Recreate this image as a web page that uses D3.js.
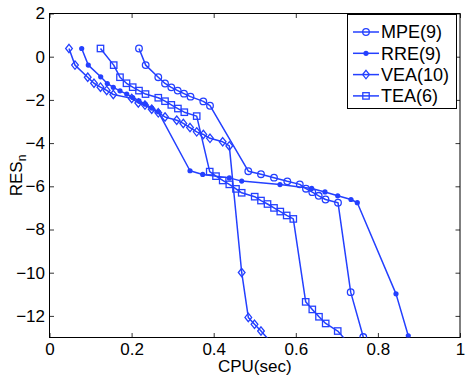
<!DOCTYPE html>
<html>
<head>
<meta charset="utf-8">
<script src="https://cdn.jsdelivr.net/npm/d3@7"></script>
<style>
  html, body { margin: 0; padding: 0; background: #fff; }
  svg { display: block; font-family: "Liberation Sans", Arial, Helvetica, sans-serif; }
</style>
</head>
<body>
<div id="chart"></div>
<script>
// values
const mpeCpu = [0.218, 0.2343, 0.265, 0.2814, 0.2967, 0.3123, 0.3276, 0.3435, 0.3747, 0.391,
  0.4843, 0.5152, 0.5469, 0.5793, 0.6097, 0.6248, 0.6402, 0.6558, 0.6724, 0.7028, 0.7337, 0.7644];
const mpeRes = [0.38, -0.39, -0.95, -1.24, -1.42, -1.57, -1.71, -1.85, -2.07, -2.27,
  -5.30, -5.44, -5.60, -5.77, -5.91, -6.11, -6.27, -6.44, -6.61, -6.76, -10.90, -12.98];

const rreCpu = [0.0784, 0.0945, 0.1247, 0.1408, 0.1554, 0.1717, 0.1881, 0.2027, 0.218, 0.2334, 0.249, 0.265,
  0.3423, 0.3732, 0.438, 0.4682, 0.5615, 0.6387, 0.6711, 0.7021, 0.7345, 0.7498, 0.8441, 0.874];
const rreRes = [0.38, -0.39, -0.93, -1.24, -1.42, -1.58, -1.73, -1.89, -2.04, -2.20, -2.38, -2.55,
  -5.28, -5.45, -5.61, -5.76, -5.92, -6.10, -6.26, -6.44, -6.61, -6.76, -10.98, -12.92];

const veaCpu = [0.0475, 0.0621, 0.0931, 0.1084, 0.1242, 0.1393, 0.1554, 0.2002, 0.2163, 0.2326, 0.249,
  0.265, 0.2814, 0.3099, 0.3259, 0.3423, 0.3586, 0.3747, 0.391, 0.4219, 0.438,
  0.4682, 0.4843, 0.4994, 0.5152, 0.5316];
const veaRes = [0.38, -0.39, -0.95, -1.23, -1.41, -1.56, -1.75, -1.93, -2.14, -2.24, -2.43,
  -2.60, -2.79, -2.94, -3.09, -3.28, -3.48, -3.60, -3.78, -3.94, -4.13,
  -9.99, -12.07, -12.39, -12.70, -13.05];

const teaCpu = [0.1242, 0.1564, 0.1717, 0.1876, 0.2027, 0.218, 0.2339, 0.265, 0.2814, 0.2967, 0.3128, 0.3284, 0.3586,
  0.3903, 0.4056, 0.4219, 0.438, 0.4543, 0.4682, 0.4999, 0.5152, 0.5311, 0.5469, 0.5622, 0.5778, 0.5939,
  0.6241, 0.6402, 0.6565, 0.6728, 0.7021, 0.73];
const teaRes = [0.38, -0.39, -0.95, -1.23, -1.41, -1.57, -1.73, -1.90, -2.06, -2.23, -2.40, -2.57, -2.75,
  -5.32, -5.53, -5.73, -5.91, -6.12, -6.30, -6.48, -6.66, -6.82, -7.00, -7.17, -7.35, -7.51,
  -11.35, -11.70, -12.04, -12.35, -12.70, -13.3];

const seriesNames = ["MPE(9)", "RRE(9)", "VEA(10)", "TEA(6)"];
const seriesMarkers = ["circle", "dot", "diamond", "square"];

const xTicks = [0, 0.2, 0.4, 0.6, 0.8, 1];
const xTickLabels = ["0", "0.2", "0.4", "0.6", "0.8", "1"];
const yTicks = [2, 0, -2, -4, -6, -8, -10, -12];
const yTickLabels = ["2", "0", "\u22122", "\u22124", "\u22126", "\u22128", "\u221210", "\u221212"];

const W = 469, H = 381;
const blue = "#2440ff";
const box = { left: 49.5, right: 460, top: 13.5, bottom: 337.5 };

const svg = d3.select("#chart").append("svg")
  .attr("width", W).attr("height", H)
  .attr("viewBox", `0 0 ${W} ${H}`);

const x = d3.scaleLinear().domain([0, 1]).range([box.left, box.right]);
const y = d3.scaleLinear().domain([-13, 2]).range([box.bottom, box.top]);

svg.append("defs").append("clipPath").attr("id", "plotclip")
  .append("rect").attr("x", box.left).attr("y", box.top)
  .attr("width", box.right - box.left).attr("height", box.bottom - box.top);

/* axes: inside ticks on all four sides, like matlab with box on */
const tickLen = 4.5;
const axB = svg.append("g").attr("transform", `translate(0,${box.bottom})`)
  .call(d3.axisBottom(x).tickValues(xTicks).tickSize(-tickLen).tickPadding(5)
    .tickFormat((d, i) => xTickLabels[i]));
const axT = svg.append("g").attr("transform", `translate(0,${box.top})`)
  .call(d3.axisTop(x).tickValues(xTicks).tickSize(-tickLen).tickFormat(""));
const axL = svg.append("g").attr("transform", `translate(${box.left},0)`)
  .call(d3.axisLeft(y).tickValues(yTicks).tickSize(-tickLen).tickPadding(4.5)
    .tickFormat((d, i) => yTickLabels[i]));
const axR = svg.append("g").attr("transform", `translate(${box.right},0)`)
  .call(d3.axisRight(y).tickValues(yTicks).tickSize(-tickLen).tickFormat(""));

[axB, axT, axL, axR].forEach(a => {
  a.select(".domain").remove();
  a.selectAll(".tick line").attr("stroke", "#000").attr("stroke-width", 0.8);
  a.selectAll(".tick text").attr("font-size", "17px").attr("fill", "#000")
    .attr("font-family", "'Liberation Sans', Arial, sans-serif");
});

svg.append("rect")
  .attr("x", box.left).attr("y", box.top)
  .attr("width", box.right - box.left).attr("height", box.bottom - box.top)
  .attr("fill", "none").attr("stroke", "#000").attr("stroke-width", 1);

/* axis labels */
svg.append("text")
  .attr("x", (box.left + box.right) / 2).attr("y", 372)
  .attr("text-anchor", "middle").attr("font-size", "17px").attr("fill", "#000")
  .text("CPU(sec)");

const yLab = svg.append("text")
  .attr("transform", `translate(21.5,${(box.top + box.bottom) / 2}) rotate(-90)`)
  .attr("text-anchor", "middle").attr("font-size", "17px").attr("fill", "#000");
yLab.append("tspan").text("RES");
yLab.append("tspan").attr("font-size", "12px").attr("dy", "4").text("n");

/* marker drawing */
function drawMarker(g, kind, cx, cy) {
  if (kind === "circle") {
    g.append("circle").attr("cx", cx).attr("cy", cy).attr("r", 3.3)
      .attr("fill", "none").attr("stroke", blue).attr("stroke-width", 1.3);
  } else if (kind === "dot") {
    g.append("circle").attr("cx", cx).attr("cy", cy).attr("r", 2.6)
      .attr("fill", blue).attr("stroke", "none");
  } else if (kind === "diamond") {
    const s = 4.2;
    g.append("path")
      .attr("d", `M${cx},${cy - s}L${cx + s * 0.8},${cy}L${cx},${cy + s}L${cx - s * 0.8},${cy}Z`)
      .attr("fill", "none").attr("stroke", blue).attr("stroke-width", 1.3);
  } else {
    const s = 3.2;
    g.append("rect").attr("x", cx - s).attr("y", cy - s).attr("width", 2 * s).attr("height", 2 * s)
      .attr("fill", "none").attr("stroke", blue).attr("stroke-width", 1.3);
  }
}

const allSeries = [
  { cpu: mpeCpu, res: mpeRes },
  { cpu: rreCpu, res: rreRes },
  { cpu: veaCpu, res: veaRes },
  { cpu: teaCpu, res: teaRes }
];

const line = d3.line().x(d => x(d[0])).y(d => y(d[1]));
const plot = svg.append("g").attr("clip-path", "url(#plotclip)");

allSeries.forEach((s, k) => {
  const pts = s.cpu.map((c, i) => [c, s.res[i]]);
  plot.append("path").datum(pts).attr("d", line)
    .attr("fill", "none").attr("stroke", blue).attr("stroke-width", 1.5)
    .attr("stroke-linejoin", "round");
  const mg = plot.append("g");
  pts.filter(p => p[1] >= -13 && p[1] <= 2)
    .forEach(p => drawMarker(mg, seriesMarkers[k], x(p[0]), y(p[1])));
});

/* legend */
const leg = svg.append("g");
leg.append("rect").attr("x", 347.5).attr("y", 14.5).attr("width", 109).attr("height", 94)
  .attr("fill", "#fff").attr("stroke", "#000").attr("stroke-width", 1);
seriesNames.forEach((name, i) => {
  const ly = 32 + i * 21.3;
  leg.append("line").attr("x1", 353).attr("x2", 379).attr("y1", ly).attr("y2", ly)
    .attr("stroke", blue).attr("stroke-width", 1.5);
  drawMarker(leg, seriesMarkers[i], 366, ly);
  leg.append("text").attr("x", 381).attr("y", ly).attr("dy", "0.36em")
    .attr("font-size", "18px").attr("fill", "#000").text(name);
});
</script>
</body>
</html>
